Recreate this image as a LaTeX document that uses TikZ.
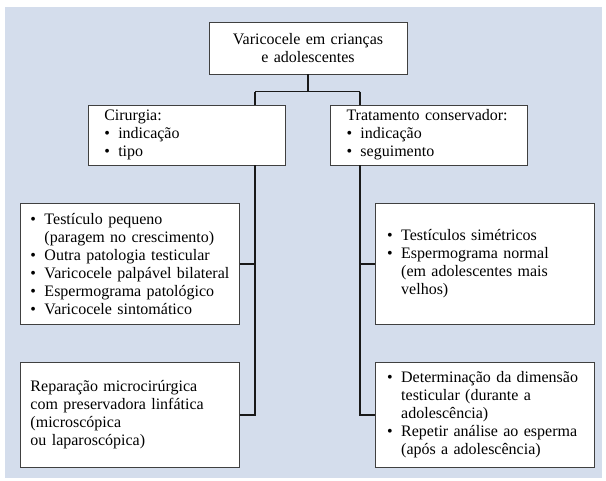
\documentclass[tikz,border=0pt]{standalone}
\usepackage{fontspec}
\setmainfont{Liberation Serif}
\definecolor{bgblue}{RGB}{212,221,236}
\newcommand{\bul}{\makebox[14pt][l]{\textbullet}}
\newcommand{\ind}{\hspace*{14pt}}
\begin{document}
\begin{tikzpicture}[x=1pt,y=-1pt,
  box/.style={draw=black!75, line width=0.8pt, fill=white, rectangle,
    font=\fontsize{16}{18}\selectfont, align=left, inner ysep=0pt},
  conn/.style={line width=1.5pt, draw=black!90}]
\useasboundingbox (0,0) rectangle (606,481);
\fill[bgblue] (5,7) rectangle (602,478);

\node[box, align=center, text width=180pt, inner xsep=9pt, minimum height=52pt] (top) at (308,48)
  {Varicocele em crianças\\e adolescentes};
\node[box, text width=164.7pt, inner xsep=16pt, minimum height=60pt] (cir) at (186.65,135)
  {Cirurgia:\\\bul indicação\\\bul tipo};
\node[box, text width=164.5pt, inner xsep=16pt, minimum height=60pt] (tc) at (428.75,135)
  {Tratamento conservador:\\\bul indicação\\\bul seguimento};
\node[box, text width=199pt, inner xsep=10pt, minimum height=121pt] (lm) at (130,263.8)
  {\bul Testículo pequeno\\\ind (paragem no crescimento)\\\bul Outra patologia testicular\\\bul Varicocele palpável bilateral\\\bul Espermograma patológico\\\bul Varicocele sintomático};
\node[box, text width=199pt, inner xsep=10pt, minimum height=105.4pt] (lb) at (130,415)
  {Reparação microcirúrgica\\com preservadora linfática\\(microscópica\\ou laparoscópica)};
\node[box, text width=195.6pt, inner xsep=11.5pt, minimum height=121pt] (rm) at (485,263.8)
  {\bul Testículos simétricos\\\bul Espermograma normal\\\ind (em adolescentes mais\\\ind velhos)};
\node[box, text width=195.6pt, inner xsep=11.5pt, minimum height=105.4pt] (rb) at (485,415)
  {\bul Determinação da dimensão\\\ind testicular (durante a\\\ind adolescência)\\\bul Repetir análise ao esperma\\\ind (após a adolescência)};

\coordinate (jl) at (255,91.7);
\coordinate (jr) at (360,91.7);
\draw[conn] (top.south) -- (top.south |- jl);
\draw[conn] (jl) -- (jr);
\draw[conn] (jl) -- (jl |- cir.north);
\draw[conn] (jr) -- (jr |- tc.north);
\draw[conn] (cir.south -| jl) -- (jl |- lb.east) -- (lb.east);
\draw[conn] (jl |- lm.east) -- (lm.east);
\draw[conn] (tc.south -| jr) -- (jr |- rb.west) -- (rb.west);
\draw[conn] (jr |- rm.west) -- (rm.west);
\end{tikzpicture}
\end{document}
